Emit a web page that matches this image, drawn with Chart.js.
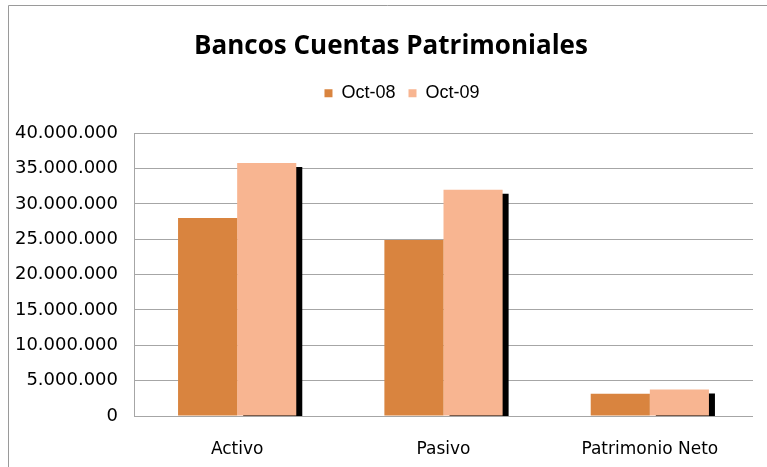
<!DOCTYPE html>
<html>
<head>
<meta charset="utf-8">
<script src="https://cdn.jsdelivr.net/npm/chart.js@4/dist/chart.umd.min.js"></script>
<style>
html,body{margin:0;padding:0;background:#fff;}
#wrap{width:767px;height:467px;position:relative;}
</style>
</head>
<body>
<div id="wrap"><canvas id="c" width="767" height="467"></canvas></div>
<script>
const categories = ['Activo', 'Pasivo', 'Patrimonio Neto'];
const oct08 = [28000000, 24900000, 3150000];
const oct09 = [35800000, 32000000, 3750000];
const seriesNames = ['Oct-08', 'Oct-09'];
const titleText = 'Bancos Cuentas Patrimoniales';

const fmt = v => String(v).replace(/\B(?=(\d{3})+(?!\d))/g, '.');

const shadowPlugin = {
  id: 'barShadow',
  beforeDatasetDraw(chart, args) {
    const ctx = chart.ctx;
    ctx.save();
    if (args.index === 1) {
      ctx.shadowColor = '#000';
      ctx.shadowOffsetX = 6;
      ctx.shadowOffsetY = 4;
      ctx.shadowBlur = 0;
    }
  },
  afterDatasetDraw(chart) {
    chart.ctx.restore();
  }
};

const legendGapPlugin = {
  id: 'legendGap',
  afterInit(chart) {
    const lg = chart.legend;
    if (lg && !lg._gapPatched) {
      const origFit = lg.fit;
      lg.fit = function () { origFit.call(this); this.height += 21; };
      const origDraw = lg.draw;
      lg.draw = function () {
        const ctx = this.ctx;
        ctx.save();
        ctx.translate(11, 0);
        origDraw.call(this);
        ctx.restore();
      };
      lg._gapPatched = true;
    }
  }
};

const framePlugin = {
  id: 'frame',
  afterDraw(chart) {
    const ctx = chart.ctx;
    ctx.save();
    ctx.strokeStyle = '#9a9a9a';
    ctx.lineWidth = 1;
    ctx.beginPath();
    ctx.moveTo(8.5, 467);
    ctx.lineTo(8.5, 5.5);
    ctx.lineTo(767, 5.5);
    ctx.stroke();
    ctx.restore();
  }
};

new Chart(document.getElementById('c'), {
  type: 'bar',
  data: {
    labels: categories,
    datasets: [
      { label: seriesNames[0], data: oct08, backgroundColor: '#D9843F', borderWidth: 0 },
      { label: seriesNames[1], data: oct09, backgroundColor: '#F8B591', borderWidth: 0 }
    ]
  },
  plugins: [shadowPlugin, legendGapPlugin, framePlugin],
  options: {
    responsive: false,
    animation: false,
    devicePixelRatio: 1,
    layout: { padding: { left: 0, right: -15, top: 0, bottom: 0 } },
    datasets: { bar: { categoryPercentage: 0.573, barPercentage: 1 } },
    plugins: {
      title: {
        display: true,
        text: titleText,
        color: '#000',
        font: { family: 'Open Sans', weight: 'bold', size: 26 },
        padding: { top: 31, bottom: 9 }
      },
      legend: {
        display: true,
        labels: {
          color: '#000',
          font: { family: 'Liberation Sans', size: 18 },
          boxWidth: 8, boxHeight: 8,
          padding: 13
        }
      },
      tooltip: { enabled: false }
    },
    scales: {
      x: {
        grid: { display: false, drawTicks: false },
        border: { display: false },
        ticks: { color: '#000', font: { family: 'DejaVu Sans', size: 17 }, padding: 23 },
        afterFit(s) { s.height = 51; s.paddingRight = 14; }
      },
      y: {
        min: 0, max: 40000000,
        ticks: { stepSize: 5000000, color: '#000', font: { family: 'DejaVu Sans', size: 18 }, padding: 16, callback: v => fmt(v) },
        grid: { color: '#a6a6a6', drawTicks: false },
        border: { display: true, color: '#a6a6a6' },
        afterFit(s) { s.width = 134; }
      }
    }
  }
});
</script>
</body>
</html>
